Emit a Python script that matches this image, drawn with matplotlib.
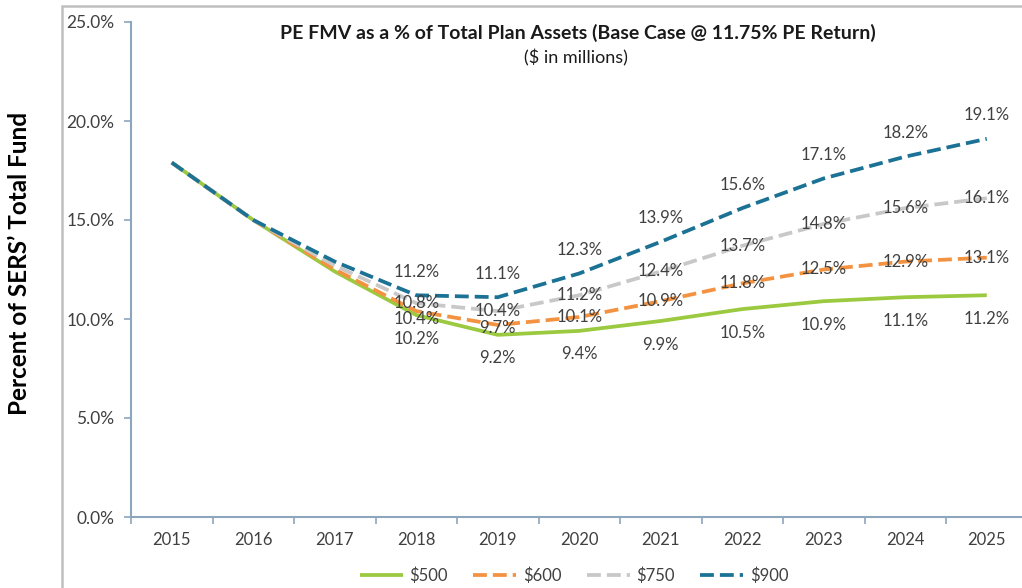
import matplotlib
matplotlib.use("Agg")
import matplotlib.pyplot as plt
from matplotlib.patches import Rectangle
from matplotlib.ticker import FuncFormatter

plt.rcParams['font.family'] = ['Lato', 'DejaVu Sans']

years = ["2015", "2016", "2017", "2018", "2019", "2020", "2021", "2022", "2023", "2024", "2025"]
s500 = [17.9, 15.0, 12.4, 10.2, 9.2, 9.4, 9.9, 10.5, 10.9, 11.1, 11.2]
s600 = [17.9, 15.0, 12.5, 10.4, 9.7, 10.1, 10.9, 11.8, 12.5, 12.9, 13.1]
s750 = [17.9, 15.0, 12.7, 10.8, 10.4, 11.2, 12.4, 13.7, 14.8, 15.6, 16.1]
s900 = [17.9, 15.0, 12.9, 11.2, 11.1, 12.3, 13.9, 15.6, 17.1, 18.2, 19.1]
series_names = ["$500", "$600", "$750", "$900"]
yticks = [0, 5, 10, 15, 20, 25]

W, H = 1022, 588
fig = plt.figure(figsize=(W / 100, H / 100), dpi=100)
ax = fig.add_axes([131 / W, (H - 517) / H, (1027.5 - 131) / W, (517 - 22) / H])

x = list(range(len(years)))
styles = [
    (s500, '#9BC93F', '-', -17),
    (s600, '#F39240', '--', 0),
    (s750, '#C8C8C8', '--', 0),
    (s900, '#1B7294', '--', 17),
]
label_color = '#404040'
for (vals, col, ls, off), name in zip(styles, series_names):
    ax.plot(x, vals, color=col, ls=ls, lw=2.7, label=name, solid_capstyle='butt')
for k, ((vals, col, ls, off), name) in enumerate(zip(styles, series_names)):
    for i in range(3, len(years)):
        dy = off
        if k == 1 and i == 3:
            dy = -6
        if k == 1 and i == 4:
            dy = -2
        ax.annotate(f"{vals[i]:.1f}%", (x[i], vals[i]), xytext=(0, dy),
                    textcoords='offset points', ha='center', va='center',
                    fontsize=12, color=label_color, zorder=5)

ax.set_xlim(-0.5, len(years) - 0.5)
ax.set_ylim(0, 25)
ax.set_yticks(yticks)
ax.yaxis.set_major_formatter(FuncFormatter(lambda v, p: f"{v:.1f}%"))
ax.set_xticks(x)
ax.set_xticklabels(years)
ax.set_xticks([i - 0.5 for i in range(len(years) + 1)], minor=True)
ax.tick_params(axis='x', which='major', length=0, pad=11, labelsize=12, labelcolor=label_color)
ax.tick_params(axis='x', which='minor', length=5, color='#8EA6BD', width=1.2)
ax.tick_params(axis='y', length=5, color='#8EA6BD', width=1.2, labelsize=12.5, labelcolor=label_color, pad=7)
for s in ['top', 'right']:
    ax.spines[s].set_visible(False)
for s in ['left', 'bottom']:
    ax.spines[s].set_color('#8EA6BD')
    ax.spines[s].set_linewidth(1.5)

leg = fig.legend(loc='center', bbox_to_anchor=(574 / W, 1 - 576 / H), ncol=4, frameon=False,
                 fontsize=12, handlelength=2.6, columnspacing=1.5, handletextpad=0.4)
for t in leg.get_texts():
    t.set_color(label_color)

fig.text(578 / W, 1 - 33 / H, "PE FMV as a % of Total Plan Assets (Base Case @ 11.75% PE Return)",
         ha='center', va='center', fontsize=14, fontweight='bold', color='#1a1a1a')
fig.text(576 / W, 1 - 58 / H, "($ in millions)", ha='center', va='center', fontsize=13, color='#1a1a1a')
fig.text(20 / W, 1 - 263 / H, "Percent of SERS\u2019 Total Fund", ha='center', va='center',
         rotation=90, fontsize=17.5, fontweight='bold', color='black')

fig.patches.append(Rectangle((62 / W, -0.2), 1.2, 1 - 6 / H + 0.2, transform=fig.transFigure,
                             fill=False, edgecolor='#BFBFBF', lw=1.8))

fig.savefig("out.png", dpi=100)
